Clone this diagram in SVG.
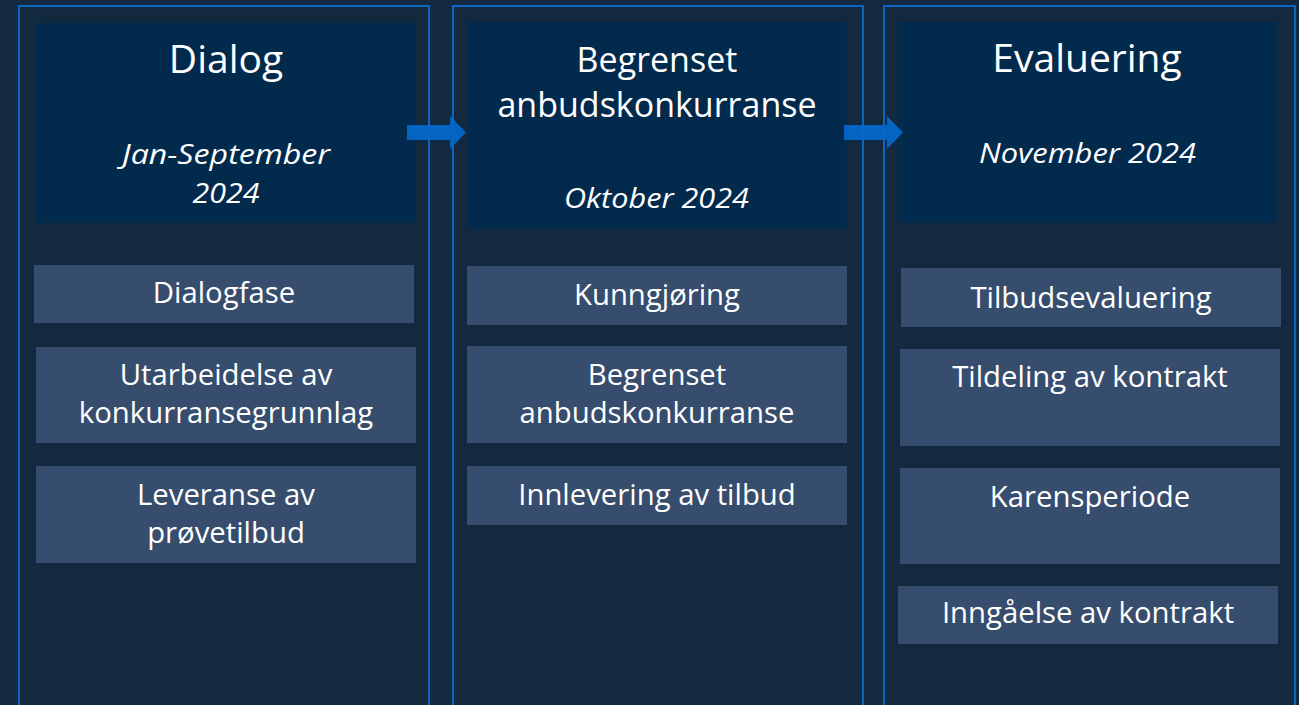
<svg xmlns="http://www.w3.org/2000/svg" width="1299" height="705" viewBox="0 0 1299 705">
  <style>
    .col { fill: none; stroke: #0B65C2; stroke-width: 2; }
    .hdr { fill: #022A4D; }
    .item { fill: #374D6D; }
    .t { font-family: "Open Sans", "Noto Sans", sans-serif; fill: #FFFFFF; text-anchor: middle; }
    .title { font-size: 39px; }
    .title2 { font-size: 34px; }
    .sub { font-size: 27px; font-style: italic; }
    .it { font-size: 29.3px; }
    .arrow { fill: #0563C1; }
  </style>
  <rect x="0" y="0" width="1299" height="705" fill="#132940"/>

  <g id="col-dialog">
    <rect class="hdr" x="36" y="23" width="380" height="200"/>
    <text class="t title" x="226" y="73">Dialog</text>
    <text class="t sub" x="226" y="164" textLength="208" lengthAdjust="spacingAndGlyphs">Jan-September</text>
    <text class="t sub" x="226" y="203" textLength="67" lengthAdjust="spacingAndGlyphs">2024</text>
  </g>
  <g id="item-dialogfase">
    <rect class="item" x="34" y="265" width="380" height="58"/>
    <text class="t it" x="224" y="303">Dialogfase</text>
  </g>
  <g id="item-utarbeidelse">
    <rect class="item" x="36" y="347" width="380" height="96"/>
    <text class="t it" x="226" y="385">Utarbeidelse av</text>
    <text class="t it" x="226" y="423">konkurransegrunnlag</text>
  </g>
  <g id="item-leveranse">
    <rect class="item" x="36" y="466" width="380" height="97"/>
    <text class="t it" x="226" y="505">Leveranse av</text>
    <text class="t it" x="226" y="543">prøvetilbud</text>
  </g>

  <g id="col-begrenset">
    <rect class="hdr" x="467" y="22" width="380" height="207"/>
    <text class="t title2" x="657" y="72">Begrenset</text>
    <text class="t title2" x="657" y="117">anbudskonkurranse</text>
    <text class="t sub" x="656.5" y="208" textLength="185" lengthAdjust="spacingAndGlyphs">Oktober 2024</text>
  </g>
  <g id="item-kunngjoring">
    <rect class="item" x="467" y="266" width="380" height="59"/>
    <text class="t it" x="657" y="305">Kunngjøring</text>
  </g>
  <g id="item-begrenset">
    <rect class="item" x="467" y="346" width="380" height="97"/>
    <text class="t it" x="657" y="385">Begrenset</text>
    <text class="t it" x="657" y="423">anbudskonkurranse</text>
  </g>
  <g id="item-innlevering">
    <rect class="item" x="467" y="466" width="380" height="59"/>
    <text class="t it" x="657" y="505">Innlevering av tilbud</text>
  </g>

  <g id="col-evaluering">
    <rect class="hdr" x="897" y="22" width="380" height="201"/>
    <text class="t title" x="1087" y="72">Evaluering</text>
    <text class="t sub" x="1087.5" y="163" textLength="217" lengthAdjust="spacingAndGlyphs">November 2024</text>
  </g>
  <g id="item-tilbudsevaluering">
    <rect class="item" x="901" y="268" width="380" height="59"/>
    <text class="t it" x="1091" y="308">Tilbudsevaluering</text>
  </g>
  <g id="item-tildeling">
    <rect class="item" x="900" y="349" width="380" height="97"/>
    <text class="t it" x="1090" y="387">Tildeling av kontrakt</text>
  </g>
  <g id="item-karensperiode">
    <rect class="item" x="900" y="468" width="380" height="96"/>
    <text class="t it" x="1090" y="507">Karensperiode</text>
  </g>
  <g id="item-inngaelse">
    <rect class="item" x="898" y="586" width="380" height="58"/>
    <text class="t it" x="1088" y="623">Inngåelse av kontrakt</text>
  </g>

  <g id="connectors">
    <polygon class="arrow" points="407,125 450,125 450,116 466,132.5 450,149 450,140 407,140"/>
    <polygon class="arrow" points="844,125 887,125 887,116 903,132.5 887,149 887,140 844,140"/>
  </g>

  <g id="column-frames">
    <rect class="col" x="19" y="6" width="410" height="710"/>
    <rect class="col" x="453" y="6" width="410" height="710"/>
    <rect class="col" x="884" y="6" width="411" height="710"/>
  </g>
</svg>
